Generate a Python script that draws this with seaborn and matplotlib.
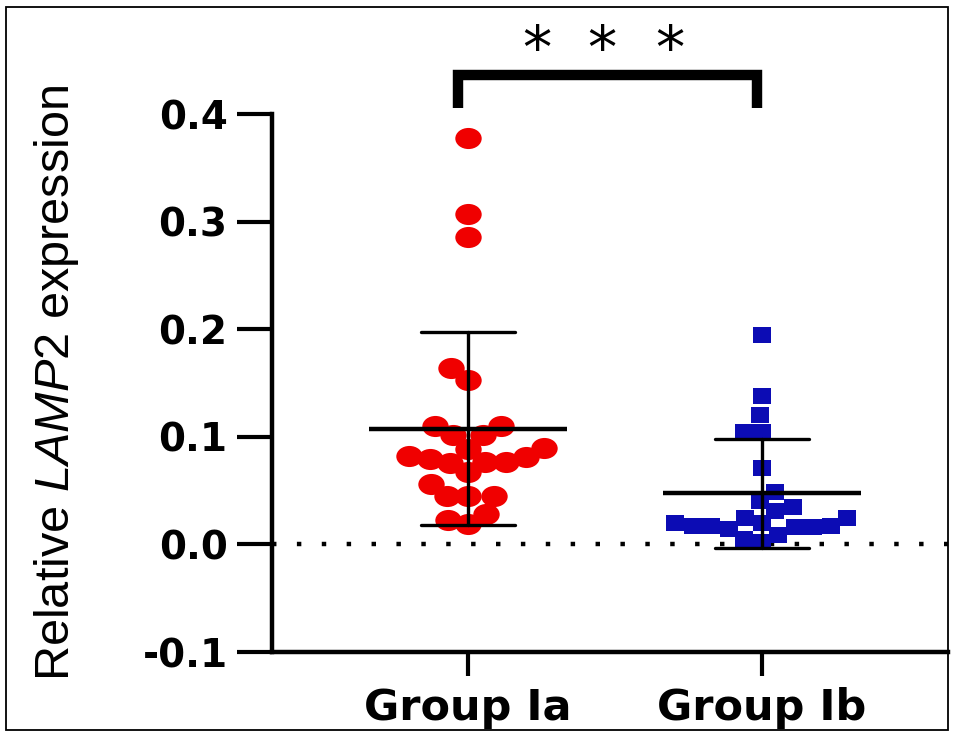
import numpy as np
import pandas as pd
import matplotlib
matplotlib.use("Agg")
import matplotlib.pyplot as plt
import seaborn as sns
from matplotlib.path import Path
from matplotlib.markers import MarkerStyle
from matplotlib.transforms import Affine2D
from matplotlib.patches import Rectangle

# ---- data ----
categories = ["Group Ia", "Group Ib"]
group_ia = [0.378, 0.307, 0.286, 0.164, 0.153, 0.110, 0.110, 0.102, 0.102,
            0.089, 0.082, 0.076, 0.079, 0.081, 0.090, 0.077, 0.077, 0.067,
            0.056, 0.045, 0.045, 0.045, 0.028, 0.023, 0.019]
group_ib = [0.195, 0.1375, 0.120, 0.104, 0.104, 0.0706, 0.049, 0.040,
            0.016, 0.016, 0.020, 0.017, 0.017, 0.017,
            0.025, 0.009, 0.035, 0.025, 0.014, 0.005, 0.031, 0.020, 0.002]
yticks = [-0.1, 0.0, 0.1, 0.2, 0.3, 0.4]
ytick_labels = ["-0.1", "0.0", "0.1", "0.2", "0.3", "0.4"]
significance = "***"

df = pd.DataFrame({
    "group": [categories[0]] * len(group_ia) + [categories[1]] * len(group_ib),
    "value": group_ia + group_ib,
})

sns.set_style("ticks")
plt.rcParams["font.family"] = ["DejaVu Sans"]
plt.rcParams["mathtext.fontset"] = "custom"
plt.rcParams["mathtext.rm"] = "Liberation Sans"
plt.rcParams["mathtext.it"] = "Liberation Sans:italic"
for k in ["text.color", "axes.labelcolor", "xtick.color", "ytick.color", "axes.edgecolor"]:
    plt.rcParams[k] = "black"

fig = plt.figure(figsize=(9.56, 7.35), dpi=100)
ax = fig.add_axes([272 / 956, 1 - 652 / 735, (948 - 272) / 956, (652 - 114) / 735])

ellipse = MarkerStyle(Path.unit_circle().transformed(Affine2D().scale(1.25, 1.0)))
rect = MarkerStyle(Path.unit_rectangle().transformed(Affine2D().translate(-0.5, -0.5).scale(1.15, 1.0)))

ax.set_xlim(-0.667, 1.633)
ax.set_ylim(-0.1, 0.4)

# swarm layout computed with a smaller footprint (points overlap as in the original)
sns.swarmplot(data=df[df.group == categories[0]], x="group", y="value", order=categories,
              color="#f00000", marker=ellipse, size=14.2, linewidth=0, ax=ax, zorder=2)
n0 = len(ax.collections)
sns.swarmplot(data=df[df.group == categories[1]], x="group", y="value", order=categories,
              color="#0c0cb4", marker=rect, size=12.5, linewidth=0, ax=ax, zorder=2)
ax.set_xlim(-0.667, 1.633)
ax.set_ylim(-0.1, 0.4)
fig.canvas.draw()
for idx, sz in [(0, 19), (n0, 16)]:
    coll = ax.collections[idx]
    xy = np.array(coll.get_offsets())
    if "draw" in coll.__dict__:
        del coll.draw
    coll.set_offsets(xy)
    coll.set_sizes([sz ** 2])

sns.pointplot(data=df, x="group", y="value", order=categories, errorbar="sd",
              capsize=0.32, linestyle="none", marker="_", markersize=142,
              markeredgewidth=3.2, color="black", err_kws={"linewidth": 2.4},
              ax=ax, zorder=5)

ax.axhline(0, color="black", linestyle=(0, (1, 4.6)), linewidth=3.2, zorder=1)

ax.set_xlim(-0.667, 1.633)
ax.set_ylim(-0.1, 0.4)
ax.set_yticks(yticks)
ax.set_yticklabels(ytick_labels, fontsize=28, fontweight="bold")
ax.set_xticks([0, 1])
ax.set_xticklabels(categories, fontsize=31, fontweight="bold")
ax.tick_params(axis="y", length=25, width=3, pad=7, color="black")
ax.tick_params(axis="x", length=17, width=3, pad=8, color="black")
ax.set_xlabel("")
ax.set_ylabel("")
for s in ["top", "right"]:
    ax.spines[s].set_visible(False)
for s in ["left", "bottom"]:
    ax.spines[s].set_linewidth(3.2)
    ax.spines[s].set_color("black")

fig.text(57 / 956, 1 - 383 / 735, r"Relative $\mathit{LAMP2}$ expression",
         rotation=90, ha="center", va="center", fontsize=35, family="Liberation Sans")

# significance bracket
ax.plot([-0.034, -0.034, 0.983, 0.983], [0.4055, 0.436, 0.436, 0.4055], color="black",
        linewidth=7.5, clip_on=False, solid_joinstyle="miter", solid_capstyle="butt")
for xs in [0.235, 0.455, 0.685]:
    ax.text(xs, 0.458, significance[0], ha="center", va="center", fontsize=42,
            fontweight="normal", clip_on=False)

fig.patches.append(Rectangle((6 / 956, 1 - 730 / 735), (948 - 6) / 956, (730 - 7) / 735,
                             transform=fig.transFigure, fill=False, edgecolor="black",
                             linewidth=1.3))

fig.savefig("out.png", dpi=100)
